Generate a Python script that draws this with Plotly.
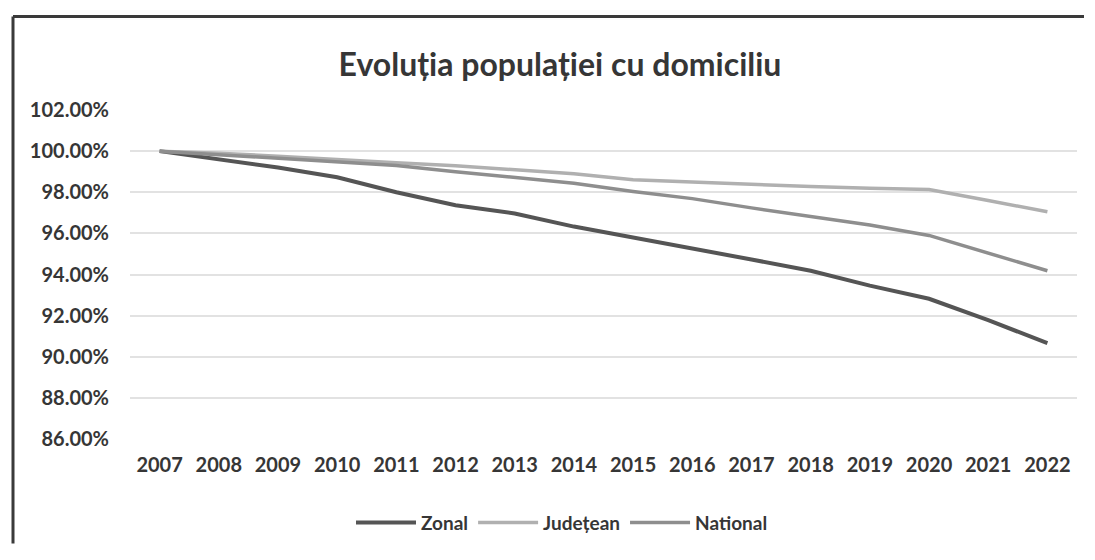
import plotly.graph_objects as go

years = [str(y) for y in range(2007, 2023)]
zonal = [100.0, 99.6, 99.2, 98.73, 98.0, 97.37, 96.97, 96.33, 95.8, 95.29, 94.73, 94.18, 93.46, 92.82, 91.78, 90.66]
judetean = [100.0, 99.9, 99.75, 99.57, 99.43, 99.29, 99.1, 98.9, 98.61, 98.49, 98.36, 98.28, 98.2, 98.13, 97.6, 97.05]
national = [100.0, 99.82, 99.65, 99.48, 99.3, 99.0, 98.73, 98.44, 98.04, 97.69, 97.24, 96.81, 96.41, 95.9, 95.05, 94.18]
y_ticks = [86, 88, 90, 92, 94, 96, 98, 100, 102]
y_labels = [f"{v:.2f}%" for v in y_ticks]

FONT = "Lato, Open Sans, sans-serif"
TXT = "#363636"

fig = go.Figure()
fig.add_trace(go.Scatter(x=years, y=zonal, name="Zonal", mode="lines",
                         line=dict(color="#555555", width=4)))
fig.add_trace(go.Scatter(x=years, y=judetean, name="Județean", mode="lines",
                         line=dict(color="#b0b0b0", width=3.5)))
fig.add_trace(go.Scatter(x=years, y=national, name="National", mode="lines",
                         line=dict(color="#8e8e8e", width=3.5)))

# page body has an 8px margin: figure pixel = screen pixel - 8
OFF = 8
W, H = 1095 - 2 * OFF, 560 - 2 * OFF
L, R, T, B = 122, 10, 102, 108
pw, ph = W - L - R, H - T - B

def sx(px):
    return (px - OFF - L) / pw

def sy(py):
    return (H - B - (py - OFF)) / ph

fig.update_layout(
    width=W, height=H,
    margin=dict(l=L, r=R, t=T, b=B),
    paper_bgcolor="white", plot_bgcolor="white",
    font=dict(family=FONT, color=TXT),
    title=dict(text="Evoluția populației cu domiciliu", x=sx(560), xanchor="center", xref="paper",
               y=1 - (65 - OFF) / H, yanchor="middle",
               font=dict(family=FONT, size=32, color=TXT, weight="bold")),
    showlegend=True,
    legend=dict(orientation="h", x=sx(562), xanchor="center", xref="paper",
                y=sy(529), yanchor="middle",
                font=dict(size=19, color=TXT, weight="bold"),
                itemwidth=60),
    xaxis=dict(type="category", range=[-0.5, 15.5], showgrid=False, showline=False,
               ticks="", ticklabelstandoff=12,
               tickfont=dict(size=20, color=TXT, weight="bold")),
    yaxis=dict(range=[86, 102], tickvals=y_ticks, ticktext=y_labels,
               showgrid=True, gridcolor="#e2e2e2", gridwidth=1.5, zeroline=False,
               showline=False, ticks="", ticklabelstandoff=20,
               tickfont=dict(size=20, color=TXT, weight="bold")),
    shapes=[
        dict(type="line", xref="paper", yref="paper",
             x0=sx(13), x1=sx(13), y0=sy(15), y1=sy(550),
             line=dict(color="#3a3a3a", width=3)),
        dict(type="line", xref="paper", yref="paper",
             x0=sx(13), x1=sx(1084), y0=sy(15), y1=sy(15),
             line=dict(color="#3a3a3a", width=3)),
    ],
)

fig.write_html("out.html", config={"displayModeBar": False})
